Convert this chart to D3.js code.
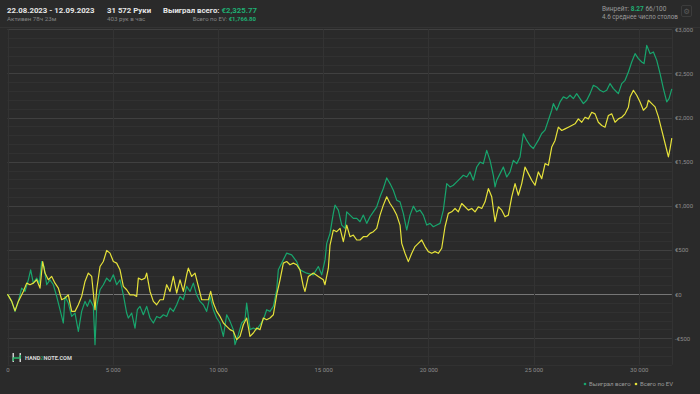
<!DOCTYPE html>
<html><head><meta charset="utf-8">
<script src="https://cdn.jsdelivr.net/npm/d3@7"></script>
<style>
html,body{margin:0;padding:0;background:#2a2a2a;}
svg{display:block;font-family:Roboto,"Noto Sans",sans-serif;}
</style></head>
<body><svg id="c" width="700" height="394"></svg>
<script>
const greenHands = [0,200,356,515,673,832,990,1100,1228,1386,1513,1624,1735,1862,2020,2179,2337,2495,2654,2733,2891,3050,3208,3367,3525,3684,3795,3922,4080,4159,4238,4397,4555,4714,4872,5031,5189,5347,5506,5664,5744,5902,6060,6171,6298,6456,6615,6773,6932,7090,7248,7407,7565,7724,7882,8041,8199,8357,8516,8674,8833,8991,9150,9308,9466,9625,9783,9942,10100,10259,10417,10576,10734,10813,10971,11130,11288,11367,11526,11684,11843,12001,12160,12318,12476,12635,12793,12872,13031,13268,13506,13744,
13902,14221,14534,14772,14934,15091,15172,15328,15485,15566,15723,15885,16041,16122,16279,16436,16598,16754,16911,17073,17230,17387,17548,17705,17862,18023,18180,18337,18498,18655,18812,18974,19131,19288,19449,19606,19763,19924,20081,20238,20400,20557,20714,20875,21032,21189,21350,21507,21664,21826,21983,22140,22301,22458,22615,22776,22933,23090,23171,23252,23409,23566,23727,23884,24041,24203,24359,24516,24678,24834,
24991,25230,25388,25547,25705,25864,25943,26102,26260,26418,26577,26735,26894,27052,27211,27369,27528,27686,27845,28003,28162,28320,28479,28637,28796,28954,29033,29192,29350,29509,29667,29826,29984,30143,30252,30381,30540,30698,30857,31015,31173,31332,31441,31572];
const greenValues = [0,-83,-196,-83,68,30,162,275,124,181,124,369,313,106,162,106,-26,-177,-328,-26,-102,-253,-215,-422,-196,-83,-139,-64,-139,-573,-139,49,106,181,143,219,106,162,-8,-215,-271,-215,-385,-177,-139,-234,-139,-271,-328,-253,-271,-234,-253,-158,-196,-121,-26,-64,87,30,124,-8,-83,-121,-196,-26,-177,-271,-328,-479,-234,-309,-403,-573,-460,-328,-290,-102,-403,-385,-403,-347,-290,-177,-196,-139,49,275,351,464,445,369,
274,237,218,312,218,387,575,688,914,1008,951,782,744,932,895,857,857,820,895,801,876,932,989,1102,1196,1316,1252,1177,1064,1045,914,726,895,996,932,951,895,782,801,763,782,801,951,1252,1214,1233,1271,1308,1346,1327,1384,1290,1440,1496,1478,1628,1515,1346,1214,1290,1365,1440,1327,1384,1515,1478,1553,1816,1741,1684,
1649,1744,1819,1857,1970,2083,2158,2083,2177,2234,2215,2253,2215,2271,2215,2158,2196,2271,2366,2347,2309,2290,2309,2385,2328,2290,2271,2385,2422,2516,2630,2724,2667,2630,2611,2818,2724,2743,2648,2498,2328,2177,2215,2325.77];

const yellowHands = [0,200,356,515,752,911,1069,1228,1386,1545,1672,1783,1941,2100,2258,2416,2575,2733,2891,3050,3208,3367,3525,3684,3842,4001,4159,4238,4397,4555,4714,4872,5031,5189,5347,5506,5664,5823,5981,6140,6219,6377,6536,6615,6773,6932,7090,7248,7407,7565,7724,7882,8041,8199,8357,8516,8595,8754,8912,9071,9229,9387,9546,9657,9783,9942,10100,10259,10417,10576,10734,10892,11051,11209,11367,11526,11684,11843,12001,12160,12318,12476,12635,12793,12952,13110,13268,13427,13585,13744,13902,14060,14139,14298,14535,14772,15010,15089,
15249,15328,15485,15647,15804,15961,16122,16279,16436,16598,16754,16911,17073,17230,17387,17548,17705,17862,18023,18180,18337,18498,18655,18736,18893,19050,19212,19368,19525,19687,19844,20001,20162,20319,20476,20637,20794,20951,21113,21270,21427,21588,21745,21902,22064,22221,22378,22539,22696,22853,23014,23171,23328,23490,23646,23803,23965,24122,24279,24440,24597,24754,24915,25072,25230,25391,25548,25705,25866,26023,26180,26341,26498,26655,26816,26973,27130,27292,27449,27606,27767,27924,28081,28243,28400,28557,28718,28875,29032,29194,29351,29508,
29589,29747,29905,30064,30222,30381,30460,30619,30777,30936,31094,31253,31411,31490,31572];
const yellowValues = [0,-83,-190,-83,30,124,106,124,162,68,369,238,162,200,124,68,-64,-45,-8,-196,-196,-121,-26,143,238,200,-177,49,313,369,494,464,369,351,275,87,49,-8,-8,-26,181,162,181,238,30,-83,-121,-64,-64,106,30,200,11,162,30,219,294,200,238,87,-64,-64,-64,30,-102,-196,-253,-328,-366,-403,-422,-516,-479,-347,-271,-479,-441,-385,-403,-271,-290,-271,-234,-8,162,351,369,332,351,332,275,87,30,200,238,200,162,106,
293,556,726,707,744,594,782,650,669,613,613,650,650,688,707,744,895,1008,1102,1026,970,895,782,575,462,368,462,538,575,613,538,481,462,481,462,519,763,914,932,970,932,1026,989,951,970,932,989,970,1045,1196,1102,820,989,951,876,895,1102,1252,1120,1252,1440,1365,1290,1233,1384,1308,1478,1459,1666,1741,1891,1854,1872,1891,1910,1929,1985,1947,2004,1985,2060,2042,1947,1910,1891,2023,2042,1947,1985,2004,2042,2117,
2234,2309,2253,2177,2083,2121,2196,2158,2121,2008,1857,1706,1555,1649,1766.80];

const xTicks = [0,5000,10000,15000,20000,25000,30000];
const xTickLabels = ["0","5 000","10 000","15 000","20 000","25 000","30 000"];
const yTicks = [-500,0,500,1000,1500,2000,2500,3000];
const yTickLabels = ["-€500","€0","€500","€1,000","€1,500","€2,000","€2,500","€3,000"];
const seriesNames = ["Выиграл всего","Всего по EV"];
const seriesColors = ["#18a56d","#e6e23a"];

const svg = d3.select("#c");
svg.append("rect").attr("width",700).attr("height",394).attr("fill","#2a2a2a");

const x = d3.scaleLinear().domain([0,31572]).range([7.5,671.8]);
const y = d3.scaleLinear().domain([-800,3000]).range([364.7,29.3]);

// header separator
svg.append("line").attr("x1",0).attr("x2",700).attr("y1",27.5).attr("y2",27.5).attr("stroke","#333333");

// minor grid
const minor = d3.range(-800,3001,100);
svg.append("g").selectAll("line").data(minor).join("line")
  .attr("x1",x(0)).attr("x2",x(31572))
  .attr("y1",d=>Math.round(y(d))+0.5).attr("y2",d=>Math.round(y(d))+0.5)
  .attr("stroke",d=> d===0 ? "#767676" : (d%500===0 ? "#404040" : "#313131"))
  .attr("stroke-width",1);
// vertical grid
svg.append("g").selectAll("line").data(xTicks.concat([31572])).join("line")
  .attr("x1",d=>Math.round(x(d))+0.5).attr("x2",d=>Math.round(x(d))+0.5)
  .attr("y1",y(3000)).attr("y2",y(-800))
  .attr("stroke","#333333");

// axes labels
const yAxis = d3.axisRight(y).tickValues(yTicks).tickSize(0).tickPadding(3)
  .tickFormat((d,i)=>yTickLabels[i]);
const gy = svg.append("g").attr("transform","translate(672,0)").call(yAxis);
gy.select(".domain").remove();
gy.selectAll("text").attr("fill","#8c8c8c").attr("font-size",6).attr("font-family","Roboto");

const xAxis = d3.axisBottom(x).tickValues(xTicks).tickSize(0).tickPadding(3)
  .tickFormat((d,i)=>xTickLabels[i]);
const gx = svg.append("g").attr("transform","translate(0,365)").call(xAxis);
gx.select(".domain").remove();
gx.selectAll("text").attr("fill","#8c8c8c").attr("font-size",6).attr("font-family","Roboto");

// lines
const line = d3.line().x(d=>x(d[0])).y(d=>y(d[1]));
const greenData = greenHands.map((h,i)=>[h,greenValues[i]]);
const yellowData = yellowHands.map((h,i)=>[h,yellowValues[i]]);
svg.append("path").datum(greenData).attr("d",line).attr("fill","none")
  .attr("stroke",seriesColors[0]).attr("stroke-width",1.2).attr("stroke-linejoin","round");
svg.append("path").datum(yellowData).attr("d",line).attr("fill","none")
  .attr("stroke",seriesColors[1]).attr("stroke-width",1.2).attr("stroke-linejoin","round");

// header
const hdr = svg.append("g").attr("font-family","Roboto");
hdr.append("text").attr("x",7).attr("y",12.5).attr("fill","#e6e6e6").attr("font-size",7.8).attr("font-weight","bold").text("22.08.2023 - 12.09.2023");
hdr.append("text").attr("x",7).attr("y",21).attr("fill","#858585").attr("font-size",6.2).text("Активен 78ч 23м");
hdr.append("text").attr("x",107).attr("y",12.5).attr("fill","#e6e6e6").attr("font-size",7.8).attr("font-weight","bold").text("31 572 Руки");
hdr.append("text").attr("x",107).attr("y",21).attr("fill","#858585").attr("font-size",6.2).text("403 рук в час");
const t1 = hdr.append("text").attr("x",163).attr("y",12.5).attr("font-size",7.8).attr("font-weight","bold");
t1.append("tspan").attr("fill","#e6e6e6").text("Выиграл всего: ");
t1.append("tspan").attr("fill","#1fae73").text("€2,325.77");
const t2 = hdr.append("text").attr("x",256).attr("y",21).attr("font-size",6).attr("text-anchor","end");
t2.append("tspan").attr("fill","#858585").text("Всего по EV: ");
t2.append("tspan").attr("fill","#1fae73").attr("font-weight","bold").text("€1,766.80");
const t3 = hdr.append("text").attr("x",602).attr("y",10.5).attr("font-size",6.5);
t3.append("tspan").attr("fill","#9a9a9a").text("Винрейт: ");
t3.append("tspan").attr("fill","#1fae73").attr("font-weight","bold").text("8.27");
t3.append("tspan").attr("fill","#9a9a9a").text(" 66/100");
hdr.append("text").attr("x",602).attr("y",19).attr("fill","#9a9a9a").attr("font-size",6.3).text("4.6 среднее число столов");
svg.append("rect").attr("x",681.5).attr("y",5.5).attr("width",10).attr("height",11).attr("rx",1.5)
  .attr("fill","none").attr("stroke","#3c3c3c");
svg.append("text").attr("x",686.5).attr("y",13.5).attr("text-anchor","middle").attr("font-size",7.5)
  .attr("fill","#5a5a5a").attr("font-family","DejaVu Sans").text("⚙");

// logo
const logo = svg.append("g");
logo.append("rect").attr("x",12.5).attr("y",353).attr("width",1.5).attr("height",9).attr("fill","#cfcfcf");
logo.append("rect").attr("x",19.5).attr("y",353).attr("width",1.5).attr("height",9).attr("fill","#cfcfcf");
logo.append("path").attr("d","M13.3 361 L13.3 358 L20.2 358 L20.2 355").attr("stroke","#2fb96f").attr("stroke-width",1.4).attr("fill","none");
const lt = logo.append("text").attr("x",25).attr("y",359.5).attr("font-size",5.6).attr("font-weight","bold").attr("font-family","Roboto");
lt.append("tspan").attr("fill","#d8d8d8").text("HAND");
lt.append("tspan").attr("fill","#2a8a55").text("2");
lt.append("tspan").attr("fill","#d8d8d8").text("NOTE.COM");

// legend
const leg = svg.append("g").attr("font-family","Roboto").attr("font-size",6);
const legX = [585,636];
seriesNames.forEach((n,i)=>{
  leg.append("circle").attr("cx",legX[i]).attr("cy",384).attr("r",1.3).attr("fill",seriesColors[i]);
  leg.append("text").attr("x",legX[i]+4).attr("y",386).attr("fill","#9a9a9a").text(n);
});
</script></body></html>
